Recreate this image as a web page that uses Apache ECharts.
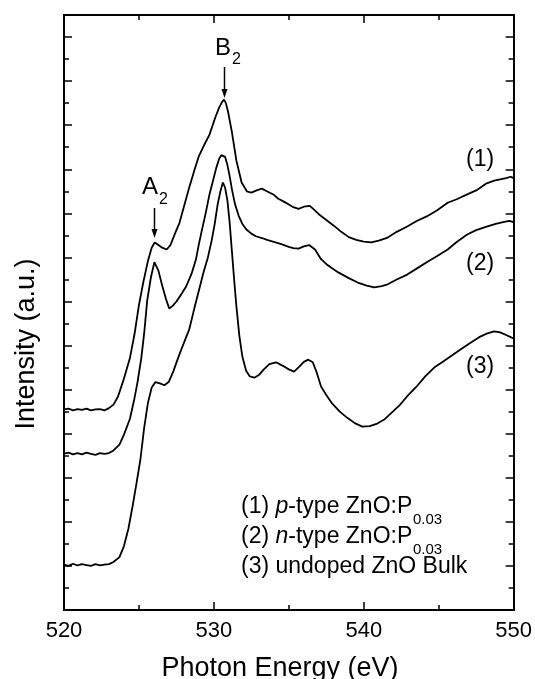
<!DOCTYPE html>
<html>
<head>
<meta charset="utf-8">
<script src="https://cdn.jsdelivr.net/npm/echarts@6/dist/echarts.min.js"></script>
<style>
html,body{margin:0;padding:0;background:#fff;}
#chart{width:535px;height:679px;}
</style>
</head>
<body>
<div id="chart"></div>
<script>
// Photon energy (eV) vs intensity (a.u., offset curves)
const xTicks = [520, 530, 540, 550];

const pType = [
 [520,4.55],[520.3,4.57],[520.6,4.53],[520.9,4.56],[521.2,4.54],[521.5,4.57],[521.8,4.53],[522.1,4.55],[522.4,4.56],[522.7,4.53],
 [523.0,4.58],[523.3,4.66],[523.6,4.84],[524.0,5.25],[524.4,5.72],[524.7,6.25],[525.0,6.92],[525.3,7.45],[525.6,7.92],[525.85,8.22],
 [526.05,8.34],[526.3,8.28],[526.55,8.22],[526.85,8.18],[527.1,8.28],[527.45,8.58],[527.7,8.78],[528.0,9.15],[528.35,9.58],[528.7,9.98],
 [529.0,10.3],[529.35,10.55],[529.7,10.78],[530.1,11.18],[530.35,11.40],[530.55,11.53],[530.68,11.58],[530.8,11.50],[530.95,11.30],[531.2,10.85],
 [531.5,10.20],[531.85,9.70],[532.2,9.50],[532.5,9.47],[532.85,9.52],[533.2,9.56],[533.6,9.49],[534.0,9.42],[534.3,9.33],[534.7,9.26],
 [535.0,9.20],[535.3,9.14],[535.65,9.10],[536.0,9.15],[536.4,9.17],[536.7,9.08],[537.0,8.98],[537.5,8.85],[538.0,8.72],[538.5,8.58],
 [539.0,8.46],[539.5,8.40],[540.0,8.36],[540.5,8.34],[541.0,8.38],[541.6,8.45],[542.2,8.58],[542.9,8.70],[543.5,8.82],[544.2,8.93],
 [544.9,9.07],[545.6,9.24],[546.2,9.32],[546.9,9.43],[547.5,9.52],[548.2,9.68],[548.7,9.74],[549.1,9.77],[549.5,9.80],[549.8,9.83],[550,9.80]
];

const nType = [
 [520,3.55],[520.3,3.57],[520.6,3.53],[520.9,3.56],[521.2,3.53],[521.5,3.57],[521.8,3.54],[522.1,3.52],[522.4,3.56],[522.7,3.54],
 [523.0,3.56],[523.3,3.62],[523.7,3.75],[524.0,3.98],[524.4,4.34],[524.7,4.80],[524.9,5.16],[525.15,5.70],[525.35,6.28],[525.55,7.02],
 [525.8,7.55],[526.03,7.89],[526.3,7.70],[526.55,7.36],[526.8,7.06],[527.02,6.84],[527.25,6.90],[527.5,7.00],[527.8,7.15],[528.15,7.34],
 [528.5,7.62],[528.8,7.95],[529.0,8.30],[529.2,8.62],[529.45,9.00],[529.7,9.42],[529.95,9.75],[530.15,10.02],[530.35,10.24],[530.5,10.32],
 [530.62,10.35],[530.75,10.28],[530.9,10.10],[531.05,9.85],[531.2,9.55],[531.4,9.22],[531.65,8.95],[531.9,8.76],[532.15,8.64],[532.5,8.54],
 [532.8,8.48],[533.2,8.44],[533.6,8.39],[534.0,8.35],[534.5,8.30],[535.0,8.24],[535.3,8.21],[535.65,8.20],[536.0,8.25],[536.35,8.28],
 [536.75,8.18],[537.15,7.96],[537.6,7.82],[538.3,7.66],[539.0,7.53],[539.6,7.43],[540.2,7.36],[540.7,7.32],[541.2,7.35],[541.6,7.39],
 [542.2,7.50],[542.9,7.61],[543.5,7.74],[544.2,7.89],[544.9,8.03],[545.6,8.18],[546.2,8.35],[546.9,8.52],[547.5,8.62],[548.2,8.70],
 [548.8,8.76],[549.3,8.80],[549.7,8.83],[550,8.80]
];

const undoped = [
 [520,1.03],[520.3,1.00],[520.6,1.05],[520.9,1.01],[521.2,1.04],[521.5,1.02],[521.8,1.00],[522.1,1.04],[522.4,1.01],[522.7,1.03],
 [523.0,1.04],[523.3,1.09],[523.7,1.20],[524.0,1.45],[524.3,1.85],[524.6,2.40],[524.85,2.90],[525.1,3.42],[525.35,4.14],[525.6,4.70],
 [525.85,5.05],[526.1,5.17],[526.4,5.14],[526.7,5.10],[527.0,5.18],[527.3,5.42],[527.7,5.80],[528.0,6.06],[528.35,6.36],[528.7,6.85],
 [529.0,7.25],[529.3,7.65],[529.6,8.0],[529.85,8.38],[530.05,8.75],[530.25,9.20],[530.45,9.52],[530.6,9.70],[530.75,9.58],[530.9,9.30],
 [531.05,8.80],[531.2,8.15],[531.35,7.50],[531.5,6.90],[531.7,6.22],[531.9,5.75],[532.15,5.43],[532.4,5.30],[532.7,5.27],[533.0,5.33],
 [533.3,5.45],[533.7,5.58],[534.15,5.62],[534.6,5.54],[535.0,5.46],[535.35,5.41],[535.7,5.52],[536.0,5.63],[536.3,5.68],[536.6,5.62],
 [536.85,5.40],[537.15,5.07],[537.5,4.88],[537.9,4.68],[538.4,4.50],[538.9,4.36],[539.4,4.24],[539.9,4.16],[540.4,4.17],[540.9,4.23],
 [541.4,4.33],[541.9,4.49],[542.4,4.65],[542.9,4.85],[543.5,5.06],[544.1,5.30],[544.7,5.50],[545.3,5.64],[545.9,5.78],[546.5,5.92],
 [547.1,6.06],[547.7,6.19],[548.2,6.27],[548.7,6.32],[549.1,6.30],[549.5,6.24],[549.8,6.19],[550,6.16]
];

const seriesNames = ['(1)', '(2)', '(3)'];
const legendLines = [
  ['(1) ', 'p', '-type ZnO:P', '0.03'],
  ['(2) ', 'n', '-type ZnO:P', '0.03'],
  ['(3) undoped ZnO Bulk', '', '', '']
];

const FF = '"Liberation Sans", Arial, Helvetica, sans-serif';
const black = '#000';

const chart = echarts.init(document.getElementById('chart'), null, {renderer: 'canvas'});

function xAx(pos, showLabel) {
  return {
    type: 'value', min: 520, max: 550, interval: 10, position: pos,
    axisLine: {show: true, onZero: false, lineStyle: {color: black, width: 2}},
    axisTick: {show: true, inside: true, length: 8, lineStyle: {color: black, width: 1.5}},
    minorTick: {show: true, splitNumber: 2, length: 5, lineStyle: {color: black, width: 1.5}},
    axisLabel: {show: showLabel, fontSize: 22, color: black, margin: 10, fontFamily: FF,
      formatter: v => (xTicks.indexOf(v) >= 0 ? String(v) : '')},
    splitLine: {show: false}, minorSplitLine: {show: false}
  };
}
function yAx(pos, interval, len) {
  return {
    type: 'value', min: 0, max: 13.5, interval: interval, position: pos, offset: 0,
    axisLine: {show: true, onZero: false, lineStyle: {color: black, width: 2}},
    axisTick: {show: true, inside: true, length: len, lineStyle: {color: black, width: 1.5}},
    axisLabel: {show: false},
    splitLine: {show: false}
  };
}

const lineStyle = {color: black, width: 1.8};
function mk(name, data) {
  return {name: name, type: 'line', data: data, xAxisIndex: 0, yAxisIndex: 0,
    showSymbol: false, symbol: 'none', lineStyle: lineStyle, silent: true, animation: false};
}

function txt(text, x, y, size, extra) {
  return Object.assign({
    type: 'text', silent: true,
    style: {text: text, x: x, y: y, font: size + 'px ' + FF, fontSize: size, fontFamily: FF,
      fill: black, align: 'left', verticalAlign: 'middle', textAlign: 'left', textVerticalAlign: 'middle'}
  }, extra || {});
}

const graphics = [];
// axis titles
graphics.push(txt('Photon Energy (eV)', 280, 669, 27));
graphics[graphics.length-1].style.align = 'center';
graphics[graphics.length-1].style.textAlign = 'center';
graphics.push({type: 'text', silent: true, x: 27, y: 344, rotation: Math.PI / 2,
  style: {text: 'Intensity (a.u.)', x: 0, y: 0, font: '27px ' + FF, fontSize: 27, fontFamily: FF, fill: black,
    align: 'center', verticalAlign: 'middle', textAlign: 'center', textVerticalAlign: 'middle'}});
// peak labels
graphics.push(txt('A', 142, 187, 24));
graphics.push(txt('2', 159, 200, 16));
graphics.push(txt('B', 215, 48, 24));
graphics.push(txt('2', 232, 60, 16));
// arrows
graphics.push({type: 'line', silent: true, shape: {x1: 154.5, y1: 208, x2: 154.5, y2: 232}, style: {stroke: black, lineWidth: 1.5}});
graphics.push({type: 'polygon', silent: true, shape: {points: [[151.5, 229], [157.5, 229], [154.5, 238]]}, style: {fill: black}});
graphics.push({type: 'line', silent: true, shape: {x1: 224.5, y1: 67, x2: 224.5, y2: 92}, style: {stroke: black, lineWidth: 1.5}});
graphics.push({type: 'polygon', silent: true, shape: {points: [[221.5, 89], [227.5, 89], [224.5, 98]]}, style: {fill: black}});
// curve labels
graphics.push(txt(seriesNames[0], 466, 160, 23));
graphics.push(txt(seriesNames[1], 466, 264, 23));
graphics.push(txt(seriesNames[2], 466, 367, 23));
// legend text
const legendY = [507, 537, 567];
legendLines.forEach((ln, i) => {
  const t = ln[1] ? '{n|' + ln[0] + '}{i|' + ln[1] + '}{n|' + ln[2] + '}' : '{n|' + ln[0] + '}';
  graphics.push({type: 'text', silent: true,
    style: {text: t, x: 241, y: legendY[i], fill: black, align: 'left', verticalAlign: 'middle',
      textAlign: 'left', textVerticalAlign: 'middle',
      rich: {n: {fontSize: 23, fontFamily: FF, fill: black, color: black},
             i: {fontSize: 23, fontFamily: FF, fontStyle: 'italic', fill: black, color: black}}}});
  if (ln[3]) graphics.push(txt(ln[3], 413, legendY[i] + 13, 15));
});

chart.setOption({
  animation: false,
  backgroundColor: '#fff',
  grid: {left: 64, right: 18, top: 15, bottom: 69, containLabel: false},
  xAxis: [xAx('bottom', true), xAx('top', false)],
  yAxis: [yAx('left', 0.5, 5), yAx('left', 1, 8), yAx('right', 0.5, 5), yAx('right', 1, 8)],
  series: [mk(seriesNames[0], pType), mk(seriesNames[1], nType), mk(seriesNames[2], undoped)],
  graphic: graphics
});
</script>
</body>
</html>
